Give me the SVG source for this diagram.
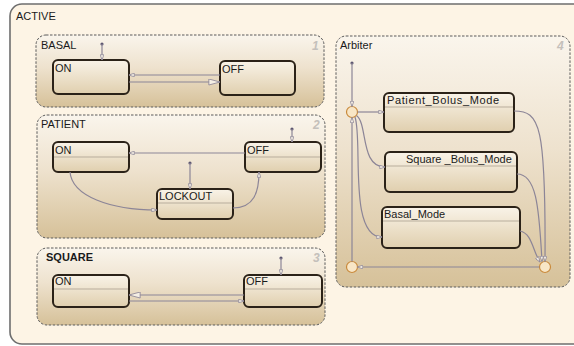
<svg xmlns="http://www.w3.org/2000/svg" width="574" height="346" viewBox="0 0 574 346">
  <style>
    .lbl { font-family: "Liberation Sans", Arial, sans-serif; font-size: 11px; fill: #1a1a1a; }
    .num { font-family: "Liberation Sans", Arial, sans-serif; font-size: 12px; font-weight: bold; font-style: italic; fill: #c4c0bb; }
    .sub { fill: url(#subFill); stroke: #5a5a5a; stroke-width: 1; stroke-dasharray: 2.5 1.5; }
    .st { fill: url(#stFill); stroke: #2b2218; stroke-width: 2; }
    .hdr { stroke: #b8ad9c; stroke-width: 1; }
    .tr { fill: none; stroke: #8c8597; stroke-width: 1.2; }
    .dot { fill: #5c5670; }
    .junc { fill: #f8e6c6; stroke: #c98a3c; stroke-width: 1.2; }
  </style>
  <defs>
    <linearGradient id="subFill" x1="0" y1="0" x2="0" y2="1">
      <stop offset="0" stop-color="#faf5ec"/>
      <stop offset="0.45" stop-color="#eee2ce"/>
      <stop offset="1" stop-color="#d6c199"/>
    </linearGradient>
    <linearGradient id="stFill" x1="0" y1="0" x2="0" y2="1">
      <stop offset="0" stop-color="#f9f3e8"/>
      <stop offset="1" stop-color="#e0cfae"/>
    </linearGradient>
    <marker id="arS" viewBox="0 0 8 6" refX="7.5" refY="3" markerWidth="6" markerHeight="4.5" markerUnits="userSpaceOnUse" orient="auto">
      <polygon points="0.5,0.5 7.5,3 0.5,5.5" fill="#f4eee4" stroke="#8c8597" stroke-width="1"/>
    </marker>
    <marker id="arL" viewBox="0 0 14 8" refX="13.5" refY="4" markerWidth="12" markerHeight="7" markerUnits="userSpaceOnUse" orient="auto">
      <polygon points="0.5,0.5 13.5,4 0.5,7.5" fill="#f4eee4" stroke="#8c8597" stroke-width="1"/>
    </marker>
  </defs>

  <rect width="574" height="346" fill="#ffffff"/>

  <!-- outer chart -->
  <g id="ACTIVE">
    <rect x="10" y="4" width="600" height="340" rx="12" fill="#fdf4e5" stroke="#6e6e6e" stroke-width="1.6"/>
    <text class="lbl" x="16" y="20">ACTIVE</text>
  </g>

  <!-- parallel substates -->
  <g id="BASAL">
    <rect class="sub" x="36" y="35" width="288" height="72" rx="10"/>
    <text class="lbl" x="41" y="49">BASAL</text>
    <text class="num" x="312" y="50">1</text>
    <g id="BASAL_ON">
      <rect class="st" x="53" y="60" width="76" height="34" rx="5"/>
      <text class="lbl" x="55" y="72">ON</text>
    </g>
    <g id="BASAL_OFF">
      <rect class="st" x="220" y="61" width="75" height="34" rx="5"/>
      <text class="lbl" x="222" y="73">OFF</text>
    </g>
  </g>

  <g id="PATIENT">
    <rect class="sub" x="37" y="115" width="288" height="123" rx="10"/>
    <text class="lbl" x="41" y="128">PATIENT</text>
    <text class="num" x="313" y="129">2</text>
    <g id="PATIENT_ON">
      <rect class="st" x="53" y="142" width="76" height="30" rx="5"/>
      <line class="hdr" x1="54" y1="157" x2="128" y2="157"/>
      <text class="lbl" x="55" y="154">ON</text>
    </g>
    <g id="PATIENT_OFF">
      <rect class="st" x="245" y="142" width="76" height="30" rx="5"/>
      <line class="hdr" x1="246" y1="157" x2="320" y2="157"/>
      <text class="lbl" x="247" y="154">OFF</text>
    </g>
    <g id="PATIENT_LOCKOUT">
      <rect class="st" x="157" y="189" width="76" height="30" rx="5"/>
      <line class="hdr" x1="158" y1="203" x2="232" y2="203"/>
      <text class="lbl" x="159" y="200">LOCKOUT</text>
    </g>
  </g>

  <g id="SQUARE">
    <rect class="sub" x="37" y="248" width="288" height="77" rx="10"/>
    <text class="lbl" x="46" y="261" font-weight="bold">SQUARE</text>
    <text class="num" x="313" y="262">3</text>
    <g id="SQUARE_ON">
      <rect class="st" x="53" y="275" width="76" height="32" rx="5"/>
      <line class="hdr" x1="54" y1="289" x2="128" y2="289"/>
      <text class="lbl" x="55" y="285">ON</text>
    </g>
    <g id="SQUARE_OFF">
      <rect class="st" x="244" y="275" width="78" height="32" rx="5"/>
      <line class="hdr" x1="245" y1="289" x2="321" y2="289"/>
      <text class="lbl" x="246" y="285">OFF</text>
    </g>
  </g>

  <g id="Arbiter">
    <rect class="sub" x="336" y="36" width="234" height="251" rx="10"/>
    <text class="lbl" x="340" y="49">Arbiter</text>
    <text class="num" x="557" y="50">4</text>
    <g id="Patient_Bolus_Mode">
      <rect class="st" x="384" y="93" width="130" height="39" rx="5"/>
      <line class="hdr" x1="385" y1="107" x2="513" y2="107"/>
      <text class="lbl" x="387" y="104" textLength="112" lengthAdjust="spacing">Patient_Bolus_Mode</text>
    </g>
    <g id="Square_Bolus_Mode">
      <rect class="st" x="385" y="152" width="132" height="40" rx="5"/>
      <line class="hdr" x1="386" y1="166" x2="516" y2="166"/>
      <text class="lbl" x="406" y="163">Square _Bolus_Mode</text>
    </g>
    <g id="Basal_Mode">
      <rect class="st" x="382" y="207" width="138" height="41" rx="5"/>
      <line class="hdr" x1="383" y1="221" x2="519" y2="221"/>
      <text class="lbl" x="384" y="218">Basal_Mode</text>
    </g>
    <g id="junctions">
      <circle class="junc" cx="352" cy="112" r="5.5"/>
      <circle class="junc" cx="352" cy="267" r="5.5"/>
      <circle class="junc" cx="545" cy="267" r="5.5"/>
    </g>
  </g>

  <!-- transitions -->
  <g id="connectors">
    <!-- BASAL -->
    <circle class="dot" cx="102" cy="44" r="1.6"/>
    <path class="tr" d="M102,44 L102,60" marker-end="url(#arS)"/>
    <path class="tr" d="M220,75 L129,75" marker-end="url(#arS)"/>
    <path class="tr" d="M129,82 L220,82" marker-end="url(#arL)"/>

    <!-- PATIENT -->
    <circle class="dot" cx="292" cy="129" r="1.6"/>
    <path class="tr" d="M292,129 L292,142" marker-end="url(#arS)"/>
    <circle class="dot" cx="190" cy="163" r="1.6"/>
    <path class="tr" d="M190,163 L190,189" marker-end="url(#arS)"/>
    <path class="tr" d="M245,153 L129,153" marker-end="url(#arS)"/>
    <path class="tr" d="M70,172 C72,196 110,210 157,210" marker-end="url(#arS)"/>
    <path class="tr" d="M233,208 C254,208 259,192 259,172" marker-end="url(#arS)"/>

    <!-- SQUARE -->
    <circle class="dot" cx="281" cy="258" r="1.6"/>
    <path class="tr" d="M281,258 L281,275" marker-end="url(#arS)"/>
    <path class="tr" d="M244,295 L129,295" marker-end="url(#arL)"/>
    <path class="tr" d="M129,301 L244,301" marker-end="url(#arS)"/>

    <!-- Arbiter -->
    <circle class="dot" cx="352" cy="63" r="1.6"/>
    <path class="tr" d="M352,63 L352,106.5" marker-end="url(#arS)"/>
    <path class="tr" d="M352,261.5 L352,117.5" marker-end="url(#arS)"/>
    <path class="tr" d="M539.5,267 L357.5,267" marker-end="url(#arS)"/>
    <path class="tr" d="M357.5,112 L384,112" marker-end="url(#arS)"/>
    <path class="tr" d="M356.5,115.5 C368,124 360,167 385,167" marker-end="url(#arS)"/>
    <path class="tr" d="M355,117 C363,140 348,237 382,237" marker-end="url(#arS)"/>
    <path class="tr" d="M514,111 C540,111 546,125 545,261.5" marker-end="url(#arS)"/>
    <path class="tr" d="M517,174 C536,174 539,205 542,261.5" marker-end="url(#arS)"/>
    <path class="tr" d="M520,231 C532,233 533,252 540,262" marker-end="url(#arS)"/>
  </g>
</svg>
